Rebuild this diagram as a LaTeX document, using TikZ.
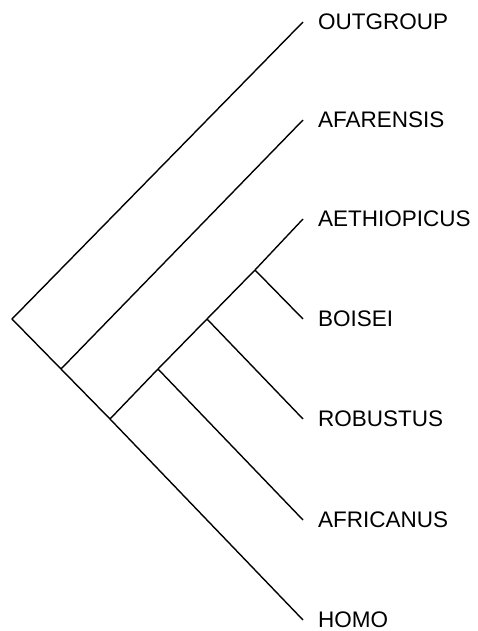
\documentclass[tikz,border=0pt]{standalone}
\usepackage{fontspec}
\setmainfont{Liberation Sans}
\usetikzlibrary{positioning}
\begin{document}
\begin{tikzpicture}[
            x=1pt, y=-1pt,
            branch/.style={line width=1.4pt, black},
            taxon/.style={anchor=west, inner sep=0pt, font=\fontsize{22.5}{25}\selectfont}
        ]
            \useasboundingbox (0,0) rectangle (478,631);
            % inner nodes of the tree
            \coordinate (root) at (12,319);
            \coordinate (nafar) at (61,369);
            \coordinate (naeth) at (110,419);
            \coordinate (nafric) at (158,369);
            \coordinate (nrobu) at (207,319);
            \coordinate (nbois) at (255,270);
            % tips
            \coordinate (toutg) at (303,22);
            \coordinate (tafar) at (303,120);
            \coordinate (taeth) at (303,219);
            \coordinate (tbois) at (303,319);
            \coordinate (trobu) at (303,419);
            \coordinate (tafric) at (303,520);
            \coordinate (thomo) at (303,620);
            \node(outg) [taxon, right=15pt of toutg] {OUTGROUP};
            \node(afar) [taxon, right=15pt of tafar] {AFARENSIS};
            \node(aeth) [taxon, right=15pt of taeth] {AETHIOPICUS};
            \node(bois) [taxon, right=15pt of tbois] {BOISEI};
            \node(robu) [taxon, right=15pt of trobu] {ROBUSTUS};
            \node(afric) [taxon, right=15pt of tafric] {AFRICANUS};
            \node(homo) [taxon, right=15pt of thomo] {HOMO};
            \draw[branch] (toutg) -- (root) -- (nafar) -- (naeth) -- (thomo);
            \draw[branch] (tafar) -- (nafar);
            \draw[branch] (taeth) -- (nbois) -- (nrobu) -- (nafric) -- (naeth);
            \draw[branch] (nbois) -- (tbois);
            \draw[branch] (nrobu) -- (trobu);
            \draw[branch] (nafric) -- (tafric);
        \end{tikzpicture}
\end{document}
